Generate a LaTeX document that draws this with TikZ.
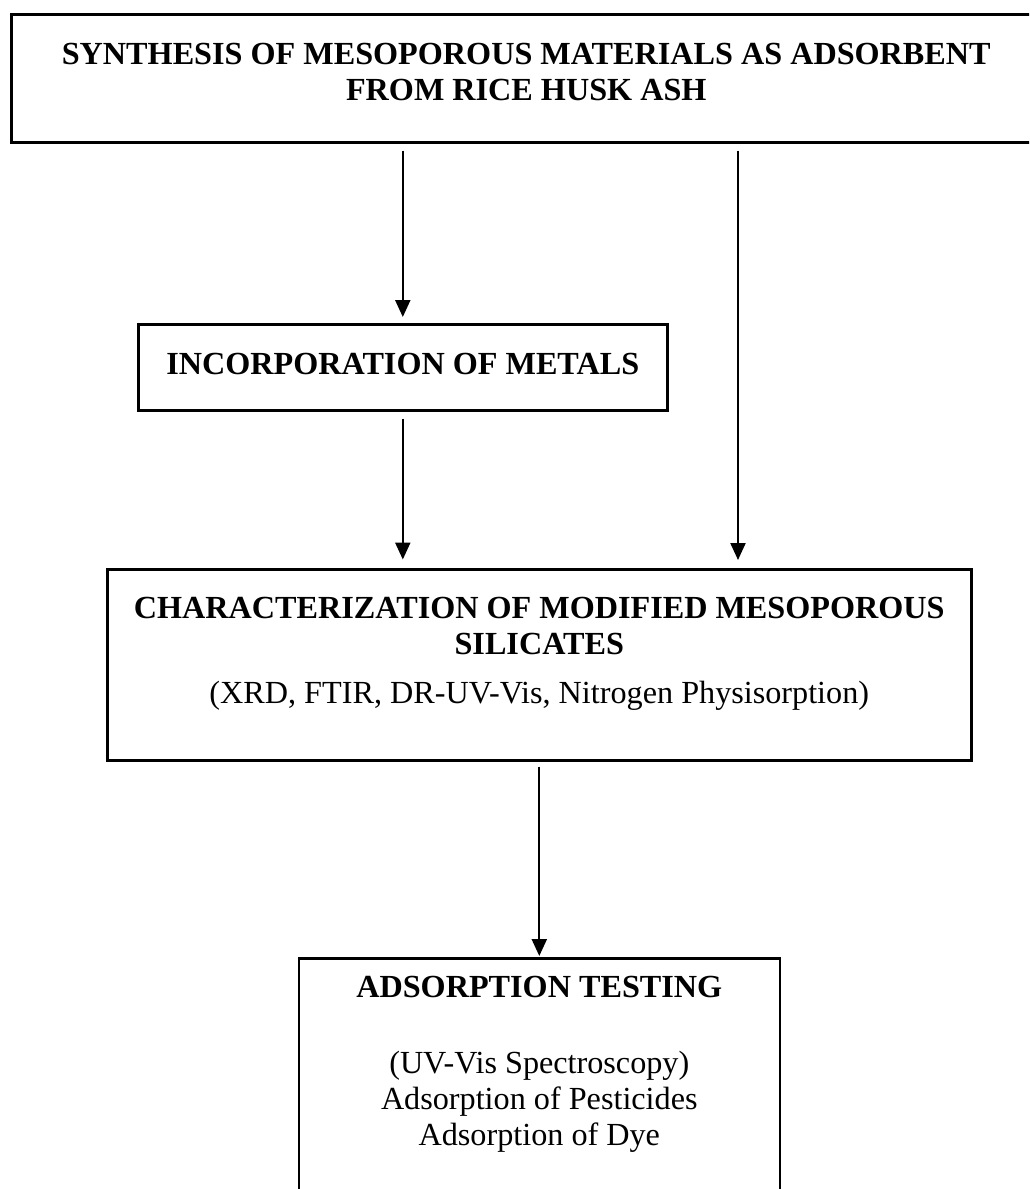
\documentclass[tikz,border=0pt]{standalone}
\usepackage{fontspec}
\setmainfont{Liberation Serif}
\usetikzlibrary{arrows.meta}

\begin{document}
\begin{tikzpicture}[x=1pt, y=-1pt,
    box/.style={draw, line width=2.6pt, inner sep=0pt, anchor=north west},
    txt/.style={font=\fontsize{32.2}{36}\selectfont, align=center, inner sep=0pt, anchor=north},
    arr/.style={-{Triangle[length=17pt, width=15pt]}, line width=2.2pt}]
    \useasboundingbox (0,0) rectangle (1029,1189);
    \clip (0,0) rectangle (1029,1189);
    \node[box, minimum width=1030pt, minimum height=128pt] (syn) at (10,13) {};
    \node[box, minimum width=529pt, minimum height=86pt] (inc) at (137,323) {};
    \node[box, minimum width=864pt, minimum height=191pt] (char) at (106,568) {};
    \node[box, minimum width=481pt, minimum height=263pt] (test) at (297.5,957) {};
    \coordinate (rx) at (738,0);
    \node[txt] (synT) at ([yshift=-30pt]syn.north)
      {\textbf{SYNTHESIS OF MESOPOROUS MATERIALS AS ADSORBENT}\\\textbf{FROM RICE HUSK ASH}};
    \node[txt] (incT) at ([yshift=-30pt]inc.north) {\textbf{INCORPORATION OF METALS}};
    \node[txt] (charT) at ([yshift=-29pt]char.north)
      {\textbf{CHARACTERIZATION OF MODIFIED MESOPOROUS}\\\textbf{SILICATES}\\[13pt]
       (XRD, FTIR, DR-UV-Vis, Nitrogen Physisorption)};
    \node[txt] (testT) at ([yshift=-19pt]test.north)
      {\textbf{ADSORPTION TESTING}\\[40pt](UV-Vis Spectroscopy)\\Adsorption of Pesticides\\Adsorption of Dye};
    \draw[arr, shorten <=7pt, shorten >=6pt] (syn.south -| inc.north) -- (inc.north);
    \draw[arr, shorten <=7pt, shorten >=8.5pt] (inc.south) -- (char.north -| inc.south);
    \draw[arr, shorten <=7pt, shorten >=8pt] (syn.south -| rx) -- (char.north -| rx);
    \draw[arr, shorten <=5pt, shorten >=1pt] (char.south) -- (test.north);
\end{tikzpicture}
\end{document}
